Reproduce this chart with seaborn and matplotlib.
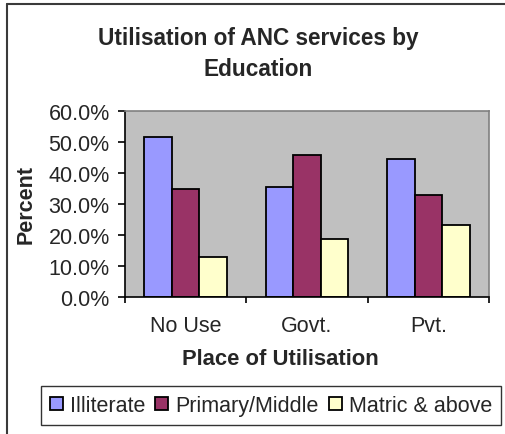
import matplotlib
matplotlib.use("Agg")
import matplotlib.pyplot as plt
import seaborn as sns
import pandas as pd
from matplotlib.patches import Rectangle
from matplotlib.lines import Line2D
from matplotlib.ticker import FixedLocator, FuncFormatter

places = ["No Use", "Govt.", "Pvt."]
education = ["Illiterate", "Primary/Middle", "Matric & above"]
illiterate = [51.4, 35.5, 44.5]
primary_middle = [34.7, 45.7, 32.8]
matric_above = [12.9, 18.6, 23.2]
yticks = [0, 10, 20, 30, 40, 50, 60]
colors = ["#9999FF", "#993366", "#FFFFCC"]

rows = []
for grp, vals in zip(education, [illiterate, primary_middle, matric_above]):
    for p, v in zip(places, vals):
        rows.append({"Place": p, "Education": grp, "Percent": v})
df = pd.DataFrame(rows)

sns.set_style("white")
plt.rcParams["font.family"] = ["Liberation Sans", "DejaVu Sans"]

fig = plt.figure(figsize=(5.06, 4.35), dpi=100)
ax = fig.add_axes([125 / 506, 1 - 297.7 / 435, 364 / 506, 186 / 435])

sns.barplot(data=df, x="Place", y="Percent", hue="Education", order=places,
            hue_order=education, palette=colors, saturation=1, width=0.68,
            dodge=True, edgecolor="black", linewidth=1.3, errorbar=None,
            legend=False, ax=ax)

ax.set_facecolor("#C0C0C0")
ax.set_ylim(0, 60)
ax.set_xlim(-0.5, 2.5)
ax.yaxis.set_major_locator(FixedLocator(yticks))
ax.yaxis.set_major_formatter(FuncFormatter(lambda v, p: f"{v:.1f}%"))
ax.tick_params(axis="y", which="major", length=5, width=1.2, color="black",
               direction="out", left=True, pad=6, labelsize=15.5)
ax.tick_params(axis="x", which="major", length=0, pad=13, labelsize=15.5)
ax.set_xticks([-0.5, 0.5, 1.5, 2.5], minor=True)
ax.tick_params(axis="x", which="minor", length=4, width=1.2, color="black",
               direction="out", bottom=True)
for s in ["top", "right"]:
    ax.spines[s].set_color("#808080")
    ax.spines[s].set_linewidth(1.2)
for s in ["left", "bottom"]:
    ax.spines[s].set_color("black")
    ax.spines[s].set_linewidth(1.2)

ax.set_ylabel("Percent", fontsize=15.5, fontweight="bold")
ax.yaxis.label.set_va("center")
ax.yaxis.set_label_coords((26 - 125) / 364, 0.5)
ax.set_xlabel("Place of Utilisation", fontsize=15.8, fontweight="bold")
ax.xaxis.label.set_va("center")
ax.xaxis.set_label_coords((280 - 125) / 364, (297.7 - 360) / 186)

fig.text(258 / 506, 1 - 45 / 435, "Utilisation of ANC services by",
         ha="center", va="baseline", fontsize=16.3, fontweight="bold")
fig.text(258 / 506, 1 - 76 / 435, "Education",
         ha="center", va="baseline", fontsize=16.3, fontweight="bold")

handles = [Rectangle((0, 0), 1, 1, facecolor=c, edgecolor="black", linewidth=1.3)
           for c in colors]
leg = fig.legend(handles, education, loc="center", ncol=3,
                 bbox_to_anchor=(271 / 506, 1 - 406.5 / 435),
                 fontsize=15.5, frameon=True, fancybox=False, edgecolor="black",
                 handlelength=0.6, handleheight=0.6, handletextpad=0.35,
                 columnspacing=0.45, borderpad=0.4, borderaxespad=0)
leg.get_frame().set_linewidth(1.0)

bx, by = 7 / 506, 1 - 5 / 435
fig.add_artist(Line2D([bx, 1.05], [by, by], transform=fig.transFigure,
                      color="#3a3a3a", linewidth=1.5))
fig.add_artist(Line2D([bx, bx], [-0.05, by], transform=fig.transFigure,
                      color="#3a3a3a", linewidth=1.5))

fig.savefig("out.png", dpi=100, facecolor="white")
